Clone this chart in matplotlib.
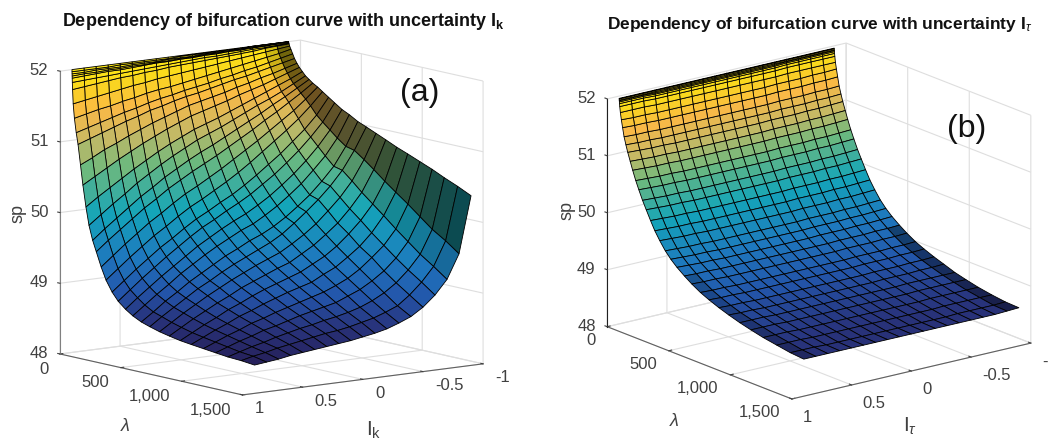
import numpy as np
import matplotlib
matplotlib.use('Agg')
import matplotlib.pyplot as plt
from matplotlib.colors import LinearSegmentedColormap, Normalize

plt.rcParams['font.family'] = ['Liberation Sans', 'DejaVu Sans']
plt.rcParams['mathtext.fontset'] = 'custom'
plt.rcParams['mathtext.rm'] = 'Liberation Sans'
plt.rcParams['mathtext.it'] = 'Liberation Sans:italic'
plt.rcParams['mathtext.bf'] = 'Liberation Sans:bold'

I_vals = [0.9, 0.8, 0.7, 0.6, 0.5, 0.4, 0.3, 0.2, 0.1, 0.0, -0.1, -0.2, -0.3, -0.4, -0.5, -0.6, -0.7, -0.8, -0.9]

lambda_a = [0, 0.5, 1, 1.5, 2, 3, 5, 10, 20, 35, 50, 70, 90, 115, 140, 170, 200, 240, 280, 330, 380, 440, 500, 570, 640, 720, 800, 890, 980, 1080, 1180, 1280, 1390, 1500]
sp_a = [
[52,52,52,52,52,52,52,52,52,52,52,52,52,52,52,52,52,52,52],
[51.97,51.97,51.97,51.97,51.98,51.98,51.98,51.98,51.98,51.99,51.99,51.99,51.99,51.99,51.99,52,52,52,52],
[51.94,51.94,51.95,51.95,51.95,51.96,51.96,51.96,51.97,51.97,51.97,51.98,51.98,51.98,51.99,51.99,51.99,51.99,52],
[51.91,51.92,51.92,51.93,51.93,51.94,51.94,51.95,51.95,51.96,51.96,51.97,51.97,51.98,51.98,51.98,51.99,51.99,51.99],
[51.88,51.89,51.90,51.91,51.91,51.92,51.93,51.94,51.94,51.95,51.95,51.96,51.96,51.97,51.97,51.98,51.98,51.99,51.99],
[51.82,51.83,51.84,51.85,51.86,51.87,51.88,51.89,51.90,51.91,51.92,51.93,51.93,51.94,51.95,51.96,51.96,51.97,51.98],
[51.72,51.74,51.76,51.78,51.80,51.81,51.83,51.84,51.86,51.87,51.88,51.89,51.90,51.91,51.92,51.93,51.95,51.96,51.97],
[51.52,51.55,51.58,51.61,51.64,51.67,51.69,51.72,51.74,51.76,51.78,51.80,51.82,51.84,51.86,51.88,51.90,51.92,51.94],
[51.32,51.36,51.40,51.43,51.47,51.50,51.54,51.57,51.59,51.62,51.65,51.68,51.71,51.74,51.77,51.80,51.83,51.86,51.90],
[51.12,51.17,51.22,51.27,51.32,51.36,51.41,51.45,51.48,51.52,51.55,51.58,51.62,51.65,51.69,51.72,51.76,51.80,51.84],
[50.96,51.02,51.08,51.14,51.20,51.25,51.31,51.35,51.40,51.44,51.47,51.51,51.55,51.59,51.62,51.66,51.70,51.74,51.78],
[50.68,50.76,50.85,50.92,51.00,51.07,51.14,51.20,51.26,51.32,51.36,51.40,51.44,51.49,51.53,51.58,51.62,51.67,51.72],
[50.40,50.50,50.60,50.70,50.79,50.88,50.96,51.04,51.11,51.18,51.23,51.28,51.33,51.39,51.44,51.49,51.55,51.61,51.67],
[50.10,50.22,50.33,50.44,50.55,50.65,50.75,50.84,50.92,51.00,51.06,51.12,51.19,51.26,51.33,51.40,51.47,51.54,51.62],
[49.85,49.98,50.11,50.23,50.36,50.47,50.58,50.68,50.77,50.86,50.93,51.00,51.08,51.16,51.24,51.31,51.39,51.48,51.57],
[49.65,49.79,49.92,50.05,50.18,50.29,50.41,50.51,50.61,50.70,50.78,50.87,50.96,51.05,51.14,51.24,51.33,51.43,51.53],
[49.50,49.64,49.77,49.90,50.03,50.14,50.26,50.36,50.46,50.55,50.64,50.74,50.84,50.94,51.05,51.15,51.26,51.37,51.49],
[49.30,49.44,49.58,49.71,49.84,49.95,50.07,50.18,50.27,50.37,50.47,50.58,50.69,50.80,50.92,51.04,51.16,51.30,51.45],
[49.13,49.27,49.41,49.54,49.67,49.78,49.90,50.01,50.10,50.20,50.30,50.41,50.53,50.66,50.79,50.92,51.06,51.22,51.40],
[48.98,49.12,49.26,49.39,49.52,49.63,49.75,49.86,49.95,50.05,50.14,50.25,50.37,50.50,50.63,50.78,50.93,51.11,51.34],
[48.87,49.01,49.15,49.28,49.41,49.53,49.65,49.76,49.85,49.95,50.04,50.14,50.26,50.38,50.52,50.67,50.84,51.03,51.28],
[48.78,48.92,49.05,49.18,49.30,49.42,49.54,49.64,49.74,49.83,49.91,50.01,50.12,50.25,50.39,50.55,50.73,50.94,51.21],
[48.71,48.84,48.97,49.09,49.22,49.33,49.44,49.54,49.63,49.72,49.79,49.89,50.00,50.13,50.27,50.44,50.62,50.85,51.16],
[48.65,48.77,48.90,49.01,49.13,49.23,49.33,49.43,49.51,49.60,49.67,49.76,49.87,50.00,50.14,50.31,50.50,50.76,51.09],
[48.61,48.73,48.84,48.95,49.06,49.15,49.25,49.34,49.42,49.50,49.58,49.68,49.81,49.95,50.10,50.27,50.47,50.73,51.04],
[48.57,48.68,48.79,48.89,48.99,49.08,49.17,49.25,49.33,49.40,49.47,49.57,49.68,49.81,49.97,50.14,50.35,50.63,50.98],
[48.54,48.64,48.74,48.83,48.92,49.00,49.09,49.16,49.23,49.30,49.36,49.46,49.56,49.69,49.83,50.01,50.22,50.52,50.92],
[48.51,48.60,48.69,48.77,48.86,48.93,49.01,49.08,49.14,49.20,49.26,49.35,49.44,49.56,49.71,49.88,50.09,50.39,50.85],
[48.49,48.57,48.65,48.72,48.80,48.86,48.93,48.99,49.05,49.10,49.15,49.24,49.32,49.44,49.57,49.74,49.96,50.27,50.79],
[48.47,48.54,48.61,48.67,48.74,48.79,48.85,48.90,48.95,49.00,49.05,49.12,49.20,49.31,49.45,49.60,49.81,50.14,50.72],
[48.45,48.51,48.57,48.62,48.68,48.72,48.77,48.82,48.86,48.90,48.94,49.01,49.08,49.18,49.30,49.46,49.67,50.00,50.65],
[48.43,48.48,48.53,48.57,48.62,48.66,48.70,48.73,48.77,48.80,48.84,48.89,48.96,49.05,49.17,49.33,49.53,49.86,50.57],
[48.42,48.46,48.49,48.53,48.56,48.59,48.62,48.65,48.67,48.70,48.74,48.78,48.84,48.91,49.04,49.20,49.40,49.74,50.49],
[48.40,48.42,48.44,48.47,48.49,48.51,48.53,48.55,48.57,48.60,48.63,48.67,48.73,48.80,48.91,49.06,49.26,49.60,50.40],
]

lambda_b = [0, 0.5, 1, 1.5, 2, 3, 5, 10, 18, 28, 40, 55, 70, 90, 110, 135, 160, 190, 220, 255, 290, 330, 375, 420, 470, 530, 590, 660, 730, 810, 890, 980, 1070, 1170, 1280, 1390, 1500]
sp_b = [
[51.96,51.96,51.96,51.96,51.96,51.96,51.96,51.96,51.96,51.96,51.96,51.96,51.96,51.96,51.96,51.96,51.96,51.96,51.96],
[51.95,51.95,51.95,51.95,51.95,51.95,51.95,51.95,51.95,51.95,51.95,51.95,51.95,51.95,51.95,51.95,51.95,51.95,51.95],
[51.93,51.93,51.93,51.93,51.93,51.93,51.93,51.93,51.93,51.93,51.93,51.93,51.93,51.93,51.93,51.93,51.93,51.93,51.93],
[51.92,51.92,51.92,51.91,51.91,51.91,51.91,51.91,51.91,51.91,51.91,51.91,51.91,51.91,51.92,51.92,51.92,51.92,51.92],
[51.90,51.90,51.90,51.89,51.89,51.89,51.89,51.89,51.89,51.89,51.89,51.89,51.89,51.89,51.90,51.90,51.90,51.90,51.90],
[51.87,51.87,51.87,51.86,51.86,51.86,51.86,51.86,51.86,51.86,51.86,51.86,51.86,51.86,51.87,51.87,51.87,51.87,51.87],
[51.82,51.82,51.82,51.81,51.81,51.81,51.81,51.81,51.81,51.81,51.81,51.81,51.81,51.81,51.82,51.82,51.82,51.82,51.82],
[51.72,51.72,51.72,51.71,51.71,51.71,51.71,51.71,51.71,51.71,51.71,51.71,51.71,51.71,51.72,51.72,51.72,51.72,51.72],
[51.60,51.59,51.59,51.58,51.58,51.58,51.58,51.58,51.58,51.58,51.58,51.58,51.58,51.59,51.59,51.59,51.60,51.60,51.61],
[51.47,51.46,51.46,51.45,51.45,51.45,51.45,51.45,51.45,51.45,51.45,51.45,51.45,51.46,51.46,51.46,51.47,51.47,51.48],
[51.32,51.31,51.31,51.30,51.30,51.30,51.30,51.30,51.30,51.30,51.30,51.30,51.30,51.31,51.31,51.31,51.32,51.32,51.33],
[51.19,51.18,51.18,51.17,51.17,51.17,51.17,51.17,51.17,51.17,51.17,51.17,51.17,51.18,51.18,51.18,51.19,51.19,51.20],
[51.07,51.06,51.05,51.05,51.04,51.04,51.04,51.04,51.04,51.04,51.04,51.04,51.05,51.05,51.05,51.06,51.06,51.07,51.08],
[50.93,50.92,50.91,50.91,50.90,50.90,50.90,50.90,50.90,50.90,50.90,50.90,50.91,50.91,50.91,50.92,50.92,50.93,50.94],
[50.79,50.78,50.77,50.77,50.76,50.76,50.76,50.76,50.76,50.76,50.76,50.76,50.77,50.77,50.77,50.78,50.78,50.79,50.80],
[50.63,50.62,50.61,50.61,50.60,50.60,50.60,50.60,50.60,50.60,50.60,50.60,50.61,50.61,50.61,50.62,50.62,50.63,50.64],
[50.49,50.48,50.47,50.47,50.46,50.46,50.46,50.46,50.46,50.46,50.46,50.46,50.47,50.47,50.47,50.48,50.48,50.49,50.50],
[50.33,50.32,50.31,50.31,50.30,50.30,50.30,50.30,50.30,50.30,50.30,50.30,50.31,50.31,50.31,50.32,50.32,50.33,50.34],
[50.19,50.18,50.17,50.17,50.16,50.16,50.16,50.16,50.16,50.16,50.16,50.16,50.17,50.17,50.17,50.18,50.18,50.19,50.20],
[50.03,50.02,50.01,50.01,50.00,50.00,50.00,50.00,50.00,50.00,50.00,50.00,50.01,50.01,50.01,50.02,50.02,50.03,50.04],
[49.88,49.87,49.86,49.86,49.85,49.85,49.85,49.85,49.85,49.85,49.85,49.85,49.86,49.86,49.86,49.87,49.87,49.88,49.89],
[49.74,49.73,49.72,49.72,49.71,49.71,49.71,49.71,49.71,49.71,49.71,49.71,49.72,49.72,49.72,49.73,49.73,49.74,49.75],
[49.60,49.59,49.58,49.58,49.57,49.57,49.57,49.57,49.57,49.57,49.57,49.57,49.58,49.58,49.58,49.59,49.59,49.60,49.61],
[49.49,49.48,49.47,49.47,49.46,49.46,49.46,49.46,49.46,49.46,49.46,49.46,49.47,49.47,49.47,49.48,49.48,49.49,49.50],
[49.39,49.38,49.37,49.37,49.36,49.36,49.36,49.36,49.36,49.36,49.36,49.36,49.37,49.37,49.37,49.38,49.38,49.39,49.40],
[49.29,49.28,49.28,49.27,49.27,49.27,49.27,49.27,49.27,49.27,49.27,49.27,49.27,49.28,49.28,49.28,49.29,49.29,49.30],
[49.20,49.19,49.19,49.18,49.18,49.18,49.18,49.18,49.18,49.18,49.18,49.18,49.18,49.19,49.19,49.19,49.20,49.20,49.21],
[49.11,49.10,49.10,49.09,49.09,49.09,49.09,49.09,49.09,49.09,49.09,49.09,49.09,49.10,49.10,49.10,49.11,49.11,49.12],
[49.04,49.03,49.03,49.02,49.02,49.02,49.02,49.02,49.02,49.02,49.02,49.02,49.02,49.03,49.03,49.03,49.04,49.04,49.05],
[48.97,48.96,48.96,48.95,48.95,48.95,48.95,48.95,48.95,48.95,48.95,48.95,48.95,48.96,48.96,48.96,48.97,48.97,48.98],
[48.91,48.90,48.90,48.89,48.89,48.89,48.89,48.89,48.89,48.89,48.89,48.89,48.89,48.90,48.90,48.90,48.91,48.91,48.92],
[48.85,48.85,48.85,48.84,48.84,48.84,48.84,48.84,48.84,48.84,48.84,48.84,48.84,48.84,48.85,48.85,48.85,48.85,48.85],
[48.80,48.80,48.80,48.79,48.79,48.79,48.79,48.79,48.79,48.79,48.79,48.79,48.79,48.79,48.80,48.80,48.80,48.80,48.80],
[48.75,48.75,48.75,48.74,48.74,48.74,48.74,48.74,48.74,48.74,48.74,48.74,48.74,48.74,48.75,48.75,48.75,48.75,48.75],
[48.71,48.71,48.71,48.70,48.70,48.70,48.70,48.70,48.70,48.70,48.70,48.70,48.70,48.70,48.71,48.71,48.71,48.71,48.71],
[48.67,48.67,48.67,48.66,48.66,48.66,48.66,48.66,48.66,48.66,48.66,48.66,48.66,48.66,48.67,48.67,48.67,48.67,48.68],
[48.65,48.65,48.65,48.65,48.65,48.65,48.65,48.65,48.65,48.65,48.65,48.65,48.65,48.65,48.65,48.65,48.65,48.66,48.67],
]

lambda_ticks = [0, 500, 1000, 1500]
lambda_labels = ['0', '500', '1,000', '1,500']
I_ticks = [1, 0.5, 0, -0.5, -1]
I_labels = ['1', '0.5', '0', '-0.5', '-1']
sp_ticks = [48, 49, 50, 51, 52]

VMIN, VMAX = 48.4, 52.0
color_levels = [48.4, 48.7, 49.0, 49.4, 50.0, 50.6, 51.0, 51.4, 51.75, 52.0]
color_rgb = [(38, 32, 90), (40, 52, 125), (35, 85, 170), (30, 120, 190), (20, 165, 185),
             (110, 185, 125), (200, 185, 100), (250, 185, 70), (250, 215, 30), (255, 235, 20)]
cmap = LinearSegmentedColormap.from_list(
    'parula_like',
    [((z - VMIN) / (VMAX - VMIN), tuple(c / 255 for c in rgb)) for z, rgb in zip(color_levels, color_rgb)])
norm = Normalize(VMIN, VMAX)

# darkening of the columns whose mesh lines crowd together in the reference
strip_shade_a = {17: 0.45, 16: 0.82}
strip_shade_b = {17: 0.62, 0: 0.8}

W, H = 1048, 440
fig = plt.figure(figsize=(W/100, H/100), dpi=100)
GRAY = '#404040'
S = 440

def put(x, y, s, **kw):
    fig.text(x/W, 1-y/H, s, ha='center', va='center', **kw)

def panel(cx, cy, azim, elev, xy, zh, lam, sp, strip, from_lam, zline, i_va, i_pad):
    scale = S/1.85
    left = cx - 0.5135*S
    bottom = (H-cy) - 0.5135*S
    ax = fig.add_axes([left/W, bottom/H, S/W, S/H], projection='3d', proj_type='ortho')
    asp = np.array([xy/scale, xy/scale, zh/scale])
    ax.set_box_aspect(asp, zoom=np.linalg.norm(asp)/(1.8294640721620434*25/24))
    ax.view_init(elev=elev, azim=azim)
    L, I_ = np.meshgrid(lam, I_vals, indexing='ij')
    Z = np.array(sp, dtype=float)
    cell = Z.copy()
    cell[:-1, :-1] = (Z[:-1, :-1] + Z[1:, :-1] + Z[:-1, 1:] + Z[1:, 1:]) / 4
    faces = cmap(norm(cell))
    for col, k in strip.items():
        rows = np.asarray(lam) >= from_lam
        faces[rows, col, :3] *= k
    ax.plot_surface(L, I_, Z, rstride=1, cstride=1, facecolors=faces,
                    edgecolor='black', linewidth=0.6, shade=False, antialiased=True)
    ax.set_xlim(0, 1500, view_margin=0)
    ax.set_ylim(1, -1, view_margin=0)
    ax.set_zlim(48, 52, view_margin=0)
    ax.set_xticks(lambda_ticks, lambda_labels, ha='right', va='center')
    ax.set_yticks(I_ticks, I_labels, ha='left', va=i_va)
    ax.set_zticks(sp_ticks, [str(v) for v in sp_ticks], ha='right', va='center')
    ax.tick_params(axis='both', labelsize=12, colors=GRAY, pad=0)
    ax.tick_params(axis='y', pad=i_pad)
    ax.tick_params(axis='z', pad=-3.5)
    for a in (ax.xaxis, ax.yaxis, ax.zaxis):
        a.set_pane_color((1, 1, 1, 0))
        a.pane.set_edgecolor('#d0d0d0')
        a.line.set_color('#606060')
        a.line.set_linewidth(0.8)
        a._axinfo['grid']['color'] = '#dedede'
        a._axinfo['grid']['linewidth'] = 0.8
        a._axinfo['tick']['inward_factor'] = 0
        a._axinfo['tick']['outward_factor'] = 0.15
    ax.zaxis.line.set_color(zline)
    ax.zaxis.set_ticks_position('upper')
    return ax

panel(271.5, 217.5, -37.2, 9.8, 302, 287, lambda_a, sp_a, strip_shade_a, 0, '#808080', 'bottom', 3)
panel(819, 221, -37.7, 17.6, 302, 239, lambda_b, sp_b, strip_shade_b, 500, '#202020', 'center', 2)

put(283, 21, r'Dependency of bifurcation curve with uncertainty $\mathbf{I_k}$', fontsize=13, fontweight='bold', color='#111111')
put(820, 24, r'Dependency of bifurcation curve with uncertainty $\mathbf{I}_{\tau}$', fontsize=12.5, fontweight='bold', color='#111111')
put(420, 93, '(a)', fontsize=23, color='#111111')
put(967, 129, '(b)', fontsize=23, color='#111111')
put(18, 213, 'sp', fontsize=13, color=GRAY, rotation=90)
put(567, 210, 'sp', fontsize=13, color=GRAY, rotation=90)
put(125, 426, r'$\lambda$', fontsize=13, color=GRAY)
put(674, 421, r'$\lambda$', fontsize=13, color=GRAY)
put(374, 430, r'$\mathregular{I_k}$', fontsize=15, color=GRAY)
put(910, 426, r'$\mathregular{I}_{\tau}$', fontsize=15, color=GRAY)

fig.savefig('out.png', dpi=100)
